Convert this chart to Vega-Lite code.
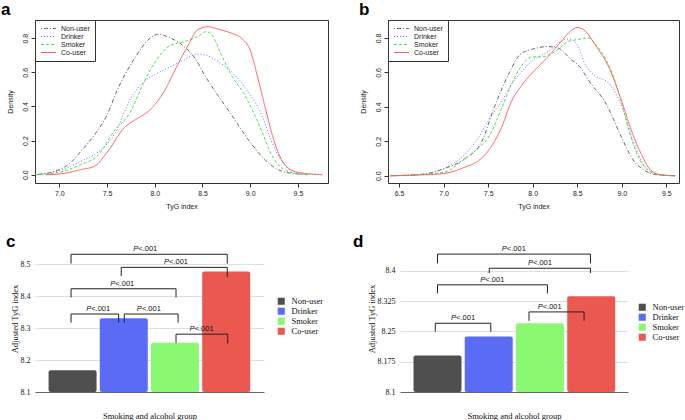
{
  "$schema": "https://vega.github.io/schema/vega-lite/v6.json",
  "padding": 0,
  "background": "white",
  "spacing": 23,
  "config": {
    "font": "Liberation Sans",
    "view": {"stroke": null},
    "title": {"font": "Liberation Sans", "fontSize": 17, "fontWeight": "bold", "anchor": "start", "color": "#000"},
    "style": {
      "barx": {"labels": false, "ticks": false, "grid": false, "domain": true, "domainColor": "#666", "titleFont": "Liberation Serif", "titleFontSize": 8.5, "titleFontWeight": "normal", "titleColor": "#111", "titlePadding": 19},
      "bary": {"labelOverlap": false, "domain": false, "ticks": false, "grid": true, "gridColor": "#dedede", "labelFont": "Liberation Serif", "labelFontSize": 8, "labelColor": "#111", "labelPadding": 5, "titleFont": "Liberation Serif", "titleFontSize": 8.5, "titleFontWeight": "normal", "titleColor": "#111", "titlePadding": 1}
    }
  },
  "resolve": {"scale": {"color": "independent", "strokeDash": "independent"}, "legend": {"color": "independent", "strokeDash": "independent"}},
  "datasets": {
    "densA": [
      {"group": "Non-user", "x": 6.75, "y": 0.0}, {"group": "Non-user", "x": 6.9, "y": 0.012}, {"group": "Non-user", "x": 7.0, "y": 0.03}, {"group": "Non-user", "x": 7.12, "y": 0.07}, {"group": "Non-user", "x": 7.23, "y": 0.14}, {"group": "Non-user", "x": 7.35, "y": 0.22}, {"group": "Non-user", "x": 7.5, "y": 0.35}, {"group": "Non-user", "x": 7.61, "y": 0.5}, {"group": "Non-user", "x": 7.79, "y": 0.684}, {"group": "Non-user", "x": 7.93, "y": 0.79}, {"group": "Non-user", "x": 8.03, "y": 0.823}, {"group": "Non-user", "x": 8.17, "y": 0.8}, {"group": "Non-user", "x": 8.31, "y": 0.75}, {"group": "Non-user", "x": 8.42, "y": 0.684}, {"group": "Non-user", "x": 8.52, "y": 0.586}, {"group": "Non-user", "x": 8.63, "y": 0.49}, {"group": "Non-user", "x": 8.8, "y": 0.354}, {"group": "Non-user", "x": 9.0, "y": 0.19}, {"group": "Non-user", "x": 9.15, "y": 0.09}, {"group": "Non-user", "x": 9.33, "y": 0.02}, {"group": "Non-user", "x": 9.5, "y": 0.004}, {"group": "Non-user", "x": 9.6, "y": 0.0},
      {"group": "Drinker", "x": 6.75, "y": 0.0}, {"group": "Drinker", "x": 6.9, "y": 0.01}, {"group": "Drinker", "x": 7.0, "y": 0.023}, {"group": "Drinker", "x": 7.23, "y": 0.08}, {"group": "Drinker", "x": 7.4, "y": 0.13}, {"group": "Drinker", "x": 7.58, "y": 0.24}, {"group": "Drinker", "x": 7.75, "y": 0.45}, {"group": "Drinker", "x": 7.89, "y": 0.547}, {"group": "Drinker", "x": 8.03, "y": 0.596}, {"group": "Drinker", "x": 8.17, "y": 0.635}, {"group": "Drinker", "x": 8.31, "y": 0.674}, {"group": "Drinker", "x": 8.45, "y": 0.707}, {"group": "Drinker", "x": 8.54, "y": 0.7}, {"group": "Drinker", "x": 8.66, "y": 0.664}, {"group": "Drinker", "x": 8.8, "y": 0.606}, {"group": "Drinker", "x": 8.96, "y": 0.5}, {"group": "Drinker", "x": 9.12, "y": 0.35}, {"group": "Drinker", "x": 9.22, "y": 0.2}, {"group": "Drinker", "x": 9.33, "y": 0.08}, {"group": "Drinker", "x": 9.43, "y": 0.023}, {"group": "Drinker", "x": 9.6, "y": 0.003}, {"group": "Drinker", "x": 9.76, "y": 0.0},
      {"group": "Smoker", "x": 6.75, "y": 0.0}, {"group": "Smoker", "x": 7.0, "y": 0.014}, {"group": "Smoker", "x": 7.23, "y": 0.06}, {"group": "Smoker", "x": 7.4, "y": 0.11}, {"group": "Smoker", "x": 7.58, "y": 0.26}, {"group": "Smoker", "x": 7.73, "y": 0.354}, {"group": "Smoker", "x": 7.89, "y": 0.547}, {"group": "Smoker", "x": 8.03, "y": 0.684}, {"group": "Smoker", "x": 8.17, "y": 0.76}, {"group": "Smoker", "x": 8.31, "y": 0.78}, {"group": "Smoker", "x": 8.45, "y": 0.81}, {"group": "Smoker", "x": 8.54, "y": 0.839}, {"group": "Smoker", "x": 8.61, "y": 0.81}, {"group": "Smoker", "x": 8.7, "y": 0.7}, {"group": "Smoker", "x": 8.8, "y": 0.586}, {"group": "Smoker", "x": 8.94, "y": 0.47}, {"group": "Smoker", "x": 9.12, "y": 0.256}, {"group": "Smoker", "x": 9.22, "y": 0.12}, {"group": "Smoker", "x": 9.33, "y": 0.04}, {"group": "Smoker", "x": 9.5, "y": 0.004}, {"group": "Smoker", "x": 9.6, "y": 0.0},
      {"group": "Co-user", "x": 6.86, "y": 0.0}, {"group": "Co-user", "x": 7.0, "y": 0.004}, {"group": "Co-user", "x": 7.23, "y": 0.03}, {"group": "Co-user", "x": 7.37, "y": 0.05}, {"group": "Co-user", "x": 7.5, "y": 0.13}, {"group": "Co-user", "x": 7.68, "y": 0.275}, {"group": "Co-user", "x": 7.82, "y": 0.33}, {"group": "Co-user", "x": 7.93, "y": 0.37}, {"group": "Co-user", "x": 8.0, "y": 0.41}, {"group": "Co-user", "x": 8.1, "y": 0.49}, {"group": "Co-user", "x": 8.24, "y": 0.645}, {"group": "Co-user", "x": 8.35, "y": 0.76}, {"group": "Co-user", "x": 8.45, "y": 0.85}, {"group": "Co-user", "x": 8.56, "y": 0.868}, {"group": "Co-user", "x": 8.66, "y": 0.854}, {"group": "Co-user", "x": 8.8, "y": 0.83}, {"group": "Co-user", "x": 8.91, "y": 0.8}, {"group": "Co-user", "x": 9.0, "y": 0.73}, {"group": "Co-user", "x": 9.08, "y": 0.567}, {"group": "Co-user", "x": 9.15, "y": 0.41}, {"group": "Co-user", "x": 9.26, "y": 0.18}, {"group": "Co-user", "x": 9.36, "y": 0.06}, {"group": "Co-user", "x": 9.5, "y": 0.014}, {"group": "Co-user", "x": 9.76, "y": 0.0}
    ],
    "densB": [
      {"group": "Non-user", "x": 6.4, "y": 0.0}, {"group": "Non-user", "x": 6.75, "y": 0.008}, {"group": "Non-user", "x": 7.0, "y": 0.04}, {"group": "Non-user", "x": 7.24, "y": 0.1}, {"group": "Non-user", "x": 7.43, "y": 0.2}, {"group": "Non-user", "x": 7.57, "y": 0.4}, {"group": "Non-user", "x": 7.74, "y": 0.6}, {"group": "Non-user", "x": 7.86, "y": 0.705}, {"group": "Non-user", "x": 8.0, "y": 0.735}, {"group": "Non-user", "x": 8.17, "y": 0.75}, {"group": "Non-user", "x": 8.29, "y": 0.74}, {"group": "Non-user", "x": 8.44, "y": 0.67}, {"group": "Non-user", "x": 8.5, "y": 0.648}, {"group": "Non-user", "x": 8.66, "y": 0.53}, {"group": "Non-user", "x": 8.81, "y": 0.43}, {"group": "Non-user", "x": 9.0, "y": 0.22}, {"group": "Non-user", "x": 9.11, "y": 0.105}, {"group": "Non-user", "x": 9.26, "y": 0.03}, {"group": "Non-user", "x": 9.4, "y": 0.005}, {"group": "Non-user", "x": 9.6, "y": 0.0},
      {"group": "Drinker", "x": 6.4, "y": 0.0}, {"group": "Drinker", "x": 6.75, "y": 0.008}, {"group": "Drinker", "x": 7.0, "y": 0.044}, {"group": "Drinker", "x": 7.24, "y": 0.125}, {"group": "Drinker", "x": 7.39, "y": 0.22}, {"group": "Drinker", "x": 7.5, "y": 0.32}, {"group": "Drinker", "x": 7.65, "y": 0.43}, {"group": "Drinker", "x": 7.76, "y": 0.53}, {"group": "Drinker", "x": 7.87, "y": 0.6}, {"group": "Drinker", "x": 8.0, "y": 0.67}, {"group": "Drinker", "x": 8.17, "y": 0.72}, {"group": "Drinker", "x": 8.32, "y": 0.78}, {"group": "Drinker", "x": 8.4, "y": 0.795}, {"group": "Drinker", "x": 8.5, "y": 0.76}, {"group": "Drinker", "x": 8.59, "y": 0.645}, {"group": "Drinker", "x": 8.7, "y": 0.58}, {"group": "Drinker", "x": 8.85, "y": 0.54}, {"group": "Drinker", "x": 9.0, "y": 0.4}, {"group": "Drinker", "x": 9.13, "y": 0.2}, {"group": "Drinker", "x": 9.25, "y": 0.06}, {"group": "Drinker", "x": 9.4, "y": 0.008}, {"group": "Drinker", "x": 9.6, "y": 0.0},
      {"group": "Smoker", "x": 6.4, "y": 0.0}, {"group": "Smoker", "x": 7.0, "y": 0.02}, {"group": "Smoker", "x": 7.24, "y": 0.1}, {"group": "Smoker", "x": 7.39, "y": 0.16}, {"group": "Smoker", "x": 7.5, "y": 0.22}, {"group": "Smoker", "x": 7.65, "y": 0.39}, {"group": "Smoker", "x": 7.76, "y": 0.53}, {"group": "Smoker", "x": 7.87, "y": 0.635}, {"group": "Smoker", "x": 8.0, "y": 0.69}, {"group": "Smoker", "x": 8.1, "y": 0.69}, {"group": "Smoker", "x": 8.25, "y": 0.72}, {"group": "Smoker", "x": 8.4, "y": 0.78}, {"group": "Smoker", "x": 8.5, "y": 0.79}, {"group": "Smoker", "x": 8.62, "y": 0.8}, {"group": "Smoker", "x": 8.74, "y": 0.74}, {"group": "Smoker", "x": 8.85, "y": 0.645}, {"group": "Smoker", "x": 9.0, "y": 0.42}, {"group": "Smoker", "x": 9.07, "y": 0.28}, {"group": "Smoker", "x": 9.19, "y": 0.105}, {"group": "Smoker", "x": 9.3, "y": 0.03}, {"group": "Smoker", "x": 9.45, "y": 0.003}, {"group": "Smoker", "x": 9.6, "y": 0.0},
      {"group": "Co-user", "x": 6.4, "y": 0.0}, {"group": "Co-user", "x": 6.75, "y": 0.005}, {"group": "Co-user", "x": 7.0, "y": 0.013}, {"group": "Co-user", "x": 7.24, "y": 0.05}, {"group": "Co-user", "x": 7.39, "y": 0.087}, {"group": "Co-user", "x": 7.5, "y": 0.144}, {"group": "Co-user", "x": 7.65, "y": 0.28}, {"group": "Co-user", "x": 7.76, "y": 0.43}, {"group": "Co-user", "x": 7.87, "y": 0.52}, {"group": "Co-user", "x": 8.0, "y": 0.6}, {"group": "Co-user", "x": 8.17, "y": 0.69}, {"group": "Co-user", "x": 8.32, "y": 0.78}, {"group": "Co-user", "x": 8.44, "y": 0.846}, {"group": "Co-user", "x": 8.5, "y": 0.86}, {"group": "Co-user", "x": 8.59, "y": 0.84}, {"group": "Co-user", "x": 8.7, "y": 0.76}, {"group": "Co-user", "x": 8.85, "y": 0.635}, {"group": "Co-user", "x": 9.0, "y": 0.43}, {"group": "Co-user", "x": 9.11, "y": 0.26}, {"group": "Co-user", "x": 9.22, "y": 0.125}, {"group": "Co-user", "x": 9.33, "y": 0.03}, {"group": "Co-user", "x": 9.45, "y": 0.005}, {"group": "Co-user", "x": 9.6, "y": 0.0}
    ],
    "barsC": [
      {"group": "Non-user", "idx": 1, "value": 8.168},
      {"group": "Drinker", "idx": 2, "value": 8.331},
      {"group": "Smoker", "idx": 3, "value": 8.254},
      {"group": "Co-user", "idx": 4, "value": 8.477}
    ],
    "barsD": [
      {"group": "Non-user", "idx": 1, "value": 8.19},
      {"group": "Drinker", "idx": 2, "value": 8.237},
      {"group": "Smoker", "idx": 3, "value": 8.27},
      {"group": "Co-user", "idx": 4, "value": 8.337}
    ],
    "bracketsC": [
      {"from": 0.97, "to": 4.02, "top": 8.531, "lb": 8.502, "rb": 8.502, "lx": 2.42},
      {"from": 1.95, "to": 4.02, "top": 8.49, "lb": 8.463, "rb": 8.46, "lx": 3.02},
      {"from": 0.97, "to": 3.02, "top": 8.423, "lb": 8.396, "rb": 8.396, "lx": 1.97},
      {"from": 0.97, "to": 1.9, "top": 8.344, "lb": 8.317, "rb": 8.317, "lx": 1.5},
      {"from": 2.01, "to": 3.06, "top": 8.344, "lb": 8.317, "rb": 8.317, "lx": 2.49},
      {"from": 3.02, "to": 4.03, "top": 8.281, "lb": 8.254, "rb": 8.252, "lx": 3.52}
    ],
    "bracketsD": [
      {"from": 1.0, "to": 3.985, "top": 8.441, "lb": 8.418, "rb": 8.418, "lx": 2.49},
      {"from": 2.01, "to": 3.985, "top": 8.406, "lb": 8.394, "rb": 8.394, "lx": 3.0},
      {"from": 1.0, "to": 3.146, "top": 8.365, "lb": 8.344, "rb": 8.344, "lx": 2.07},
      {"from": 0.957, "to": 2.04, "top": 8.27, "lb": 8.249, "rb": 8.249, "lx": 1.5},
      {"from": 2.786, "to": 3.86, "top": 8.298, "lb": 8.276, "rb": 8.276, "lx": 3.19}
    ]
  },
  "vconcat": [
    {
      "spacing": 29,
      "resolve": {"scale": {"color": "independent", "strokeDash": "independent"}, "legend": {"color": "independent", "strokeDash": "independent"}},
      "hconcat": [
        {
          "width": 293, "height": 163,
          "title": {"text": "a", "offset": 1, "dx": -5},
          "view": {"stroke": "#333", "strokeWidth": 1},
          "data": {"name": "densA"},
          "mark": {"type": "line", "strokeWidth": 1, "interpolate": "monotone"},
          "encoding": {
            "x": {"field": "x", "type": "quantitative", "scale": {"domain": [6.745, 9.815], "nice": false, "zero": false},
              "axis": {"values": [7, 7.5, 8, 8.5, 9, 9.5], "format": ".1f", "grid": false, "domain": false, "tickSize": 4, "tickColor": "#333", "labelFont": "Liberation Sans", "labelFontSize": 7, "labelColor": "#222", "labelPadding": 2, "title": "TyG index", "titleFont": "Liberation Sans", "titleFontSize": 7, "titleFontWeight": "normal", "titleColor": "#222", "titlePadding": 6}},
            "y": {"field": "y", "type": "quantitative", "scale": {"domain": [-0.049, 0.907], "nice": false, "zero": false},
              "axis": {"values": [0, 0.2, 0.4, 0.6, 0.8], "format": ".1f", "grid": false, "domain": false, "tickSize": 4, "tickColor": "#333", "labelAngle": 270, "labelAlign": "center", "labelBaseline": "bottom", "labelFont": "Liberation Sans", "labelFontSize": 7, "labelColor": "#222", "labelPadding": 3, "title": "Density", "titleFont": "Liberation Sans", "titleFontSize": 7, "titleFontWeight": "normal", "titleColor": "#222", "titlePadding": 8}},
            "color": {"field": "group", "type": "nominal", "scale": {"domain": ["Non-user", "Drinker", "Smoker", "Co-user"], "range": ["#6a6a6a", "#6e6eff", "#4fdf4f", "#ff5a5a"]},
              "legend": {"title": null, "orient": "top-left", "offset": 0, "padding": 5, "strokeColor": "#333", "fillColor": "white", "symbolType": "M-1,0H5", "symbolSize": 25, "symbolStrokeWidth": 1, "labelFont": "Liberation Sans", "labelFontSize": 7, "labelColor": "#222", "labelOffset": 14, "rowPadding": 0}},
            "strokeDash": {"field": "group", "type": "nominal", "scale": {"domain": ["Non-user", "Drinker", "Smoker", "Co-user"], "range": [[1, 2, 4, 2], [1, 2], [3, 2], [1, 0]]},
              "legend": {"title": null, "orient": "top-left", "offset": 0, "padding": 5, "strokeColor": "#333", "fillColor": "white", "symbolType": "M-1,0H5", "symbolSize": 25, "symbolStrokeWidth": 1, "labelFont": "Liberation Sans", "labelFontSize": 7, "labelColor": "#222", "labelOffset": 14, "rowPadding": 0}}
          }
        },
        {
          "width": 291, "height": 163,
          "title": {"text": "b", "offset": 1, "dx": 0},
          "view": {"stroke": "#333", "strokeWidth": 1},
          "data": {"name": "densB"},
          "mark": {"type": "line", "strokeWidth": 1, "interpolate": "monotone"},
          "encoding": {
            "x": {"field": "x", "type": "quantitative", "scale": {"domain": [6.376, 9.642], "nice": false, "zero": false},
              "axis": {"values": [6.5, 7, 7.5, 8, 8.5, 9, 9.5], "format": ".1f", "grid": false, "domain": false, "tickSize": 4, "tickColor": "#333", "labelFont": "Liberation Sans", "labelFontSize": 7, "labelColor": "#222", "labelPadding": 2, "title": "TyG index", "titleFont": "Liberation Sans", "titleFontSize": 7, "titleFontWeight": "normal", "titleColor": "#222", "titlePadding": 6}},
            "y": {"field": "y", "type": "quantitative", "scale": {"domain": [-0.042, 0.904], "nice": false, "zero": false},
              "axis": {"values": [0, 0.2, 0.4, 0.6, 0.8], "format": ".1f", "grid": false, "domain": false, "tickSize": 4, "tickColor": "#333", "labelAngle": 270, "labelAlign": "center", "labelBaseline": "bottom", "labelFont": "Liberation Sans", "labelFontSize": 7, "labelColor": "#222", "labelPadding": 3, "title": "Density", "titleFont": "Liberation Sans", "titleFontSize": 7, "titleFontWeight": "normal", "titleColor": "#222", "titlePadding": 8}},
            "color": {"field": "group", "type": "nominal", "scale": {"domain": ["Non-user", "Drinker", "Smoker", "Co-user"], "range": ["#6a6a6a", "#6e6eff", "#4fdf4f", "#ff5a5a"]},
              "legend": {"title": null, "orient": "top-left", "offset": 0, "padding": 5, "strokeColor": "#333", "fillColor": "white", "symbolType": "M-1,0H5", "symbolSize": 25, "symbolStrokeWidth": 1, "labelFont": "Liberation Sans", "labelFontSize": 7, "labelColor": "#222", "labelOffset": 14, "rowPadding": 0}},
            "strokeDash": {"field": "group", "type": "nominal", "scale": {"domain": ["Non-user", "Drinker", "Smoker", "Co-user"], "range": [[1, 2, 4, 2], [1, 2], [3, 2], [1, 0]]},
              "legend": {"title": null, "orient": "top-left", "offset": 0, "padding": 5, "strokeColor": "#333", "fillColor": "white", "symbolType": "M-1,0H5", "symbolSize": 25, "symbolStrokeWidth": 1, "labelFont": "Liberation Sans", "labelFontSize": 7, "labelColor": "#222", "labelOffset": 14, "rowPadding": 0}}
          }
        }
      ]
    },
    {
      "spacing": 29,
      "resolve": {"scale": {"color": "independent"}, "legend": {"color": "independent"}},
      "hconcat": [
        {
          "width": 229, "height": 147,
          "title": {"text": "c", "offset": -6, "dx": -4},
          "layer": [
            {
              "data": {"name": "barsC"},
              "mark": {"type": "bar", "width": 48, "cornerRadius": 2},
              "encoding": {
                "x": {"field": "idx", "type": "quantitative", "scale": {"domain": [0.364, 4.64], "nice": false, "zero": false}, "axis": {"style": "barx", "title": "Smoking and alcohol group"}},
                "y": {"field": "value", "type": "quantitative", "scale": {"domain": [8.1, 8.56], "nice": false, "zero": false}, "axis": {"style": "bary", "title": "Adjusted TyG index", "values": [8.1, 8.2, 8.3, 8.4, 8.5], "labelExpr": "format(datum.value, '.1f')", "labelOverlap": false}},
                "y2": {"datum": 8.1},
                "color": {"field": "group", "type": "nominal", "scale": {"domain": ["Non-user", "Drinker", "Smoker", "Co-user"], "range": ["#4f4f4f", "#5a6cf6", "#8af870", "#ea5850"]},
                  "legend": {"title": null, "orient": "none", "legendX": 242, "legendY": 52, "padding": 0, "symbolType": "square", "symbolSize": 50, "symbolStrokeWidth": 0, "labelFont": "Liberation Serif", "labelFontSize": 8.5, "labelColor": "#111", "labelOffset": 6, "rowPadding": 1}}
              }
            },
            {
              "data": {"name": "bracketsC"},
              "mark": {"type": "rule", "color": "#222", "strokeWidth": 1},
              "encoding": {
                "x": {"field": "from", "type": "quantitative", "scale": {"domain": [0.364, 4.64], "nice": false, "zero": false}, "axis": {"style": "barx", "title": "Smoking and alcohol group"}},
                "x2": {"field": "to"},
                "y": {"field": "top", "type": "quantitative", "scale": {"domain": [8.1, 8.56], "nice": false, "zero": false}, "axis": {"style": "bary", "title": "Adjusted TyG index", "values": [8.1, 8.2, 8.3, 8.4, 8.5], "labelExpr": "format(datum.value, '.1f')", "labelOverlap": false}}
              }
            },
            {
              "data": {"name": "bracketsC"},
              "mark": {"type": "rule", "color": "#222", "strokeWidth": 1},
              "encoding": {
                "x": {"field": "from", "type": "quantitative", "scale": {"domain": [0.364, 4.64], "nice": false, "zero": false}, "axis": {"style": "barx", "title": "Smoking and alcohol group"}},
                "y": {"field": "top", "type": "quantitative", "scale": {"domain": [8.1, 8.56], "nice": false, "zero": false}, "axis": {"style": "bary", "title": "Adjusted TyG index", "values": [8.1, 8.2, 8.3, 8.4, 8.5], "labelExpr": "format(datum.value, '.1f')", "labelOverlap": false}},
                "y2": {"field": "lb"}
              }
            },
            {
              "data": {"name": "bracketsC"},
              "mark": {"type": "rule", "color": "#222", "strokeWidth": 1},
              "encoding": {
                "x": {"field": "to", "type": "quantitative", "scale": {"domain": [0.364, 4.64], "nice": false, "zero": false}, "axis": {"style": "barx", "title": "Smoking and alcohol group"}},
                "y": {"field": "top", "type": "quantitative", "scale": {"domain": [8.1, 8.56], "nice": false, "zero": false}, "axis": {"style": "bary", "title": "Adjusted TyG index", "values": [8.1, 8.2, 8.3, 8.4, 8.5], "labelExpr": "format(datum.value, '.1f')", "labelOverlap": false}},
                "y2": {"field": "rb"}
              }
            },
            {
              "data": {"name": "bracketsC"},
              "mark": {"type": "text", "font": "Liberation Sans", "fontSize": 7.5, "fontStyle": "italic", "align": "right", "baseline": "alphabetic", "dx": -7, "dy": -3, "color": "#111"},
              "encoding": {
                "x": {"field": "lx", "type": "quantitative", "scale": {"domain": [0.364, 4.64], "nice": false, "zero": false}, "axis": {"style": "barx", "title": "Smoking and alcohol group"}},
                "y": {"field": "top", "type": "quantitative", "scale": {"domain": [8.1, 8.56], "nice": false, "zero": false}, "axis": {"style": "bary", "title": "Adjusted TyG index", "values": [8.1, 8.2, 8.3, 8.4, 8.5], "labelExpr": "format(datum.value, '.1f')", "labelOverlap": false}},
                "text": {"value": "P"}
              }
            },
            {
              "data": {"name": "bracketsC"},
              "mark": {"type": "text", "font": "Liberation Sans", "fontSize": 7.5, "align": "left", "baseline": "alphabetic", "dx": -7, "dy": -3, "color": "#111"},
              "encoding": {
                "x": {"field": "lx", "type": "quantitative", "scale": {"domain": [0.364, 4.64], "nice": false, "zero": false}, "axis": {"style": "barx", "title": "Smoking and alcohol group"}},
                "y": {"field": "top", "type": "quantitative", "scale": {"domain": [8.1, 8.56], "nice": false, "zero": false}, "axis": {"style": "bary", "title": "Adjusted TyG index", "values": [8.1, 8.2, 8.3, 8.4, 8.5], "labelExpr": "format(datum.value, '.1f')", "labelOverlap": false}},
                "text": {"value": "<.001"}
              }
            }
          ]
        },
        {
          "width": 228, "height": 147,
          "title": {"text": "d", "offset": -6, "dx": -14},
          "layer": [
            {
              "data": {"name": "barsD"},
              "mark": {"type": "bar", "width": 48, "cornerRadius": 2},
              "encoding": {
                "x": {"field": "idx", "type": "quantitative", "scale": {"domain": [0.366, 4.62], "nice": false, "zero": false}, "axis": {"style": "barx", "title": "Smoking and alcohol group"}},
                "y": {"field": "value", "type": "quantitative", "scale": {"domain": [8.1, 8.4635], "nice": false, "zero": false}, "axis": {"style": "bary", "title": "Adjusted TyG index", "values": [8.1, 8.175, 8.25, 8.325, 8.4], "labelExpr": "format(datum.value, '.4~f')", "labelOverlap": false}},
                "y2": {"datum": 8.1},
                "color": {"field": "group", "type": "nominal", "scale": {"domain": ["Non-user", "Drinker", "Smoker", "Co-user"], "range": ["#4f4f4f", "#5a6cf6", "#8af870", "#ea5850"]},
                  "legend": {"title": null, "orient": "none", "legendX": 238, "legendY": 58, "padding": 0, "symbolType": "square", "symbolSize": 50, "symbolStrokeWidth": 0, "labelFont": "Liberation Serif", "labelFontSize": 8.5, "labelColor": "#111", "labelOffset": 6, "rowPadding": 1}}
              }
            },
            {
              "data": {"name": "bracketsD"},
              "mark": {"type": "rule", "color": "#222", "strokeWidth": 1},
              "encoding": {
                "x": {"field": "from", "type": "quantitative", "scale": {"domain": [0.366, 4.62], "nice": false, "zero": false}, "axis": {"style": "barx", "title": "Smoking and alcohol group"}},
                "x2": {"field": "to"},
                "y": {"field": "top", "type": "quantitative", "scale": {"domain": [8.1, 8.4635], "nice": false, "zero": false}, "axis": {"style": "bary", "title": "Adjusted TyG index", "values": [8.1, 8.175, 8.25, 8.325, 8.4], "labelExpr": "format(datum.value, '.4~f')", "labelOverlap": false}}
              }
            },
            {
              "data": {"name": "bracketsD"},
              "mark": {"type": "rule", "color": "#222", "strokeWidth": 1},
              "encoding": {
                "x": {"field": "from", "type": "quantitative", "scale": {"domain": [0.366, 4.62], "nice": false, "zero": false}, "axis": {"style": "barx", "title": "Smoking and alcohol group"}},
                "y": {"field": "top", "type": "quantitative", "scale": {"domain": [8.1, 8.4635], "nice": false, "zero": false}, "axis": {"style": "bary", "title": "Adjusted TyG index", "values": [8.1, 8.175, 8.25, 8.325, 8.4], "labelExpr": "format(datum.value, '.4~f')", "labelOverlap": false}},
                "y2": {"field": "lb"}
              }
            },
            {
              "data": {"name": "bracketsD"},
              "mark": {"type": "rule", "color": "#222", "strokeWidth": 1},
              "encoding": {
                "x": {"field": "to", "type": "quantitative", "scale": {"domain": [0.366, 4.62], "nice": false, "zero": false}, "axis": {"style": "barx", "title": "Smoking and alcohol group"}},
                "y": {"field": "top", "type": "quantitative", "scale": {"domain": [8.1, 8.4635], "nice": false, "zero": false}, "axis": {"style": "bary", "title": "Adjusted TyG index", "values": [8.1, 8.175, 8.25, 8.325, 8.4], "labelExpr": "format(datum.value, '.4~f')", "labelOverlap": false}},
                "y2": {"field": "rb"}
              }
            },
            {
              "data": {"name": "bracketsD"},
              "mark": {"type": "text", "font": "Liberation Sans", "fontSize": 7.5, "fontStyle": "italic", "align": "right", "baseline": "alphabetic", "dx": -7, "dy": -3, "color": "#111"},
              "encoding": {
                "x": {"field": "lx", "type": "quantitative", "scale": {"domain": [0.366, 4.62], "nice": false, "zero": false}, "axis": {"style": "barx", "title": "Smoking and alcohol group"}},
                "y": {"field": "top", "type": "quantitative", "scale": {"domain": [8.1, 8.4635], "nice": false, "zero": false}, "axis": {"style": "bary", "title": "Adjusted TyG index", "values": [8.1, 8.175, 8.25, 8.325, 8.4], "labelExpr": "format(datum.value, '.4~f')", "labelOverlap": false}},
                "text": {"value": "P"}
              }
            },
            {
              "data": {"name": "bracketsD"},
              "mark": {"type": "text", "font": "Liberation Sans", "fontSize": 7.5, "align": "left", "baseline": "alphabetic", "dx": -7, "dy": -3, "color": "#111"},
              "encoding": {
                "x": {"field": "lx", "type": "quantitative", "scale": {"domain": [0.366, 4.62], "nice": false, "zero": false}, "axis": {"style": "barx", "title": "Smoking and alcohol group"}},
                "y": {"field": "top", "type": "quantitative", "scale": {"domain": [8.1, 8.4635], "nice": false, "zero": false}, "axis": {"style": "bary", "title": "Adjusted TyG index", "values": [8.1, 8.175, 8.25, 8.325, 8.4], "labelExpr": "format(datum.value, '.4~f')", "labelOverlap": false}},
                "text": {"value": "<.001"}
              }
            }
          ]
        }
      ]
    }
  ]
}
